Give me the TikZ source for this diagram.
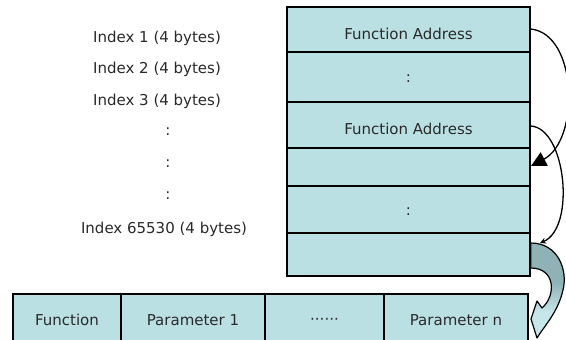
\documentclass[tikz,border=0pt]{standalone}
\usepackage{fontspec}
\setmainfont{DejaVu Sans}
\usetikzlibrary{arrows.meta}
\definecolor{cellfill}{HTML}{BAE0E3}
\definecolor{txt}{HTML}{2A2A2A}
\definecolor{arrdark}{HTML}{8FB2B6}
\definecolor{arrlight}{HTML}{C6E6E9}
\begin{document}
\begin{tikzpicture}[x=1pt,y=-1pt,
  cell/.style={draw=black, line width=1.4pt, fill=cellfill, inner sep=0pt, minimum width=243pt},
  bcell/.style={draw=black, line width=1.4pt, fill=cellfill, inner sep=0pt, minimum height=56pt},
  txtstyle/.style={text=txt, font=\fontsize{15}{18}\selectfont, inner sep=0pt},
  link/.style={line width=1.3pt, draw=black}]
\clip (0,0) rectangle (566,340);
\fill[white] (0,0) rectangle (566,340);

% left labels
\node[txtstyle] (l1) at (157,38.5) {Index 1 (4 bytes)};
\node[txtstyle] (l2) at (157,69.5) {Index 2 (4 bytes)};
\node[txtstyle] (l3) at (157,101) {Index 3 (4 bytes)};
\node[txtstyle] (l4) at (168,132) {:};
\node[txtstyle] (l5) at (168,164) {:};
\node[txtstyle] (l6) at (168,196) {:};
\node[txtstyle] (l7) at (164,229.5) {Index 65530 (4 bytes)};

% right table
\node[cell, minimum height=45pt] (r1) at (408.5,29.5) {};
\node[cell, minimum height=50pt] (r2) at (408.5,77) {};
\node[cell, minimum height=46pt] (r3) at (408.5,125) {};
\node[cell, minimum height=38pt] (r4) at (408.5,167) {};
\node[cell, minimum height=47pt] (r5) at (408.5,209.5) {};
\node[cell, minimum height=43pt] (r6) at (408.5,254.5) {};
\node[txtstyle] (t1) at ([yshift=-4pt]r1.center) {Function Address};
\node[txtstyle] (t2) at ([yshift=-1.5pt]r2.center) {:};
\node[txtstyle] (t3) at ([yshift=-4pt]r3.center) {Function Address};
\node[txtstyle] (t5) at ([yshift=-2.5pt]r5.center) {:};

% bottom row
\node[bcell, minimum width=108pt] (b1) at (67,322) {};
\node[bcell, minimum width=144pt] (b2) at (193,322) {};
\node[bcell, minimum width=119pt] (b3) at (324.5,322) {};
\node[bcell, minimum width=144pt] (b4) at (456,322) {};
\node[txtstyle] (bt1) at (67,320) {Function};
\node[txtstyle] (bt2) at (193,320) {Parameter 1};
\node[txtstyle] (bt3) at (324.5,321) {······};
\node[txtstyle] (bt4) at (456,320) {Parameter n};

% connectors
\coordinate (e1) at (531,166);
\coordinate (e2) at (540,243);
\draw[link, -{Triangle[length=15pt,width=15pt]}] (r1.east |- 0,29) .. controls (578,34) and (580,140) .. (e1);
\draw[link, -{Stealth[length=6pt,width=6pt]}] (r3.east |- 0,126) .. controls (566,128) and (576,228) .. (e2);

% block arrow
\begin{scope}
  \clip (r6.east |- 0,243) .. controls (558,243) and (568,270) .. (563,290)
    .. controls (558,312) and (545,325) .. (537,338) -- (531,319) -- (537,301) -- (542,308)
    .. controls (556,296) and (556,268) .. (r6.east |- 0,268) -- cycle;
  \fill[arrdark] (520,238) rectangle (570,283);
  \shade[top color=arrdark, bottom color=arrlight] (520,282.5) rectangle (570,312);
  \fill[arrlight] (520,311.5) rectangle (570,345);
\end{scope}
\draw[line width=1.2pt, line join=round] (r6.east |- 0,243) .. controls (558,243) and (568,270) .. (563,290)
    .. controls (558,312) and (545,325) .. (537,338) -- (531,319) -- (537,301) -- (542,308)
    .. controls (556,296) and (556,268) .. (r6.east |- 0,268) -- cycle;
\end{tikzpicture}
\end{document}
